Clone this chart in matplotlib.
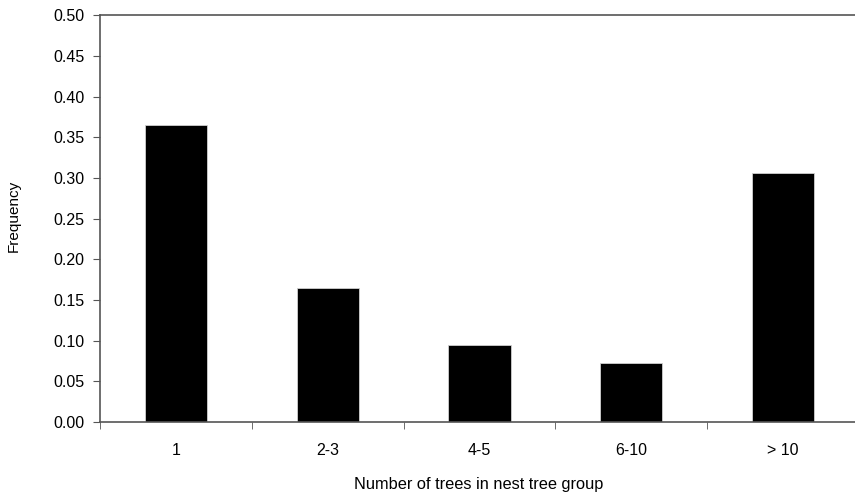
import matplotlib
matplotlib.use("Agg")
import matplotlib.pyplot as plt
import numpy as np

plt.rcParams["font.family"] = ["Liberation Sans", "DejaVu Sans"]

categories = ["1", "2-3", "4-5", "6-10", "> 10"]
frequency = [0.365, 0.165, 0.095, 0.072, 0.306]

fig = plt.figure(figsize=(8.55, 4.94), dpi=100)
ax = fig.add_axes([100 / 855, 1 - 422 / 494, 759 / 855, 406.5 / 494])

x = np.arange(len(categories))
ax.bar(x, frequency, width=0.41, color="black", edgecolor="#d0d0d0", linewidth=0.6)

ax.set_xlim(-0.5, len(categories) - 0.5)
ax.set_ylim(0, 0.5)
yt = np.arange(0, 0.501, 0.05)
ax.set_yticks(yt)
ax.set_yticklabels([f"{v:.2f}" for v in yt], fontsize=11.5)

ax.set_xticks(x)
ax.set_xticklabels(categories, fontsize=11.5)
ax.tick_params(axis="x", which="major", length=0, pad=15)
ax.set_xticks(np.arange(-0.5, len(categories), 1), minor=True)
ax.tick_params(axis="x", which="minor", length=5, color="#555555", direction="out")
ax.tick_params(axis="y", length=5, color="#555555", direction="out", pad=6)

for side in ["left", "top", "bottom"]:
    ax.spines[side].set_color("#555555")
    ax.spines[side].set_linewidth(1.2)
ax.spines["right"].set_visible(False)

# axis titles placed in figure coordinates
fig.text(14 / 855, 1 - 216 / 494, "Frequency", rotation=90,
         ha="center", va="center", fontsize=11)
fig.text(479 / 855, 1 - 484 / 494, "Number of trees in nest tree group",
         ha="center", va="center", fontsize=11.8)

fig.savefig("out.png", dpi=100)
